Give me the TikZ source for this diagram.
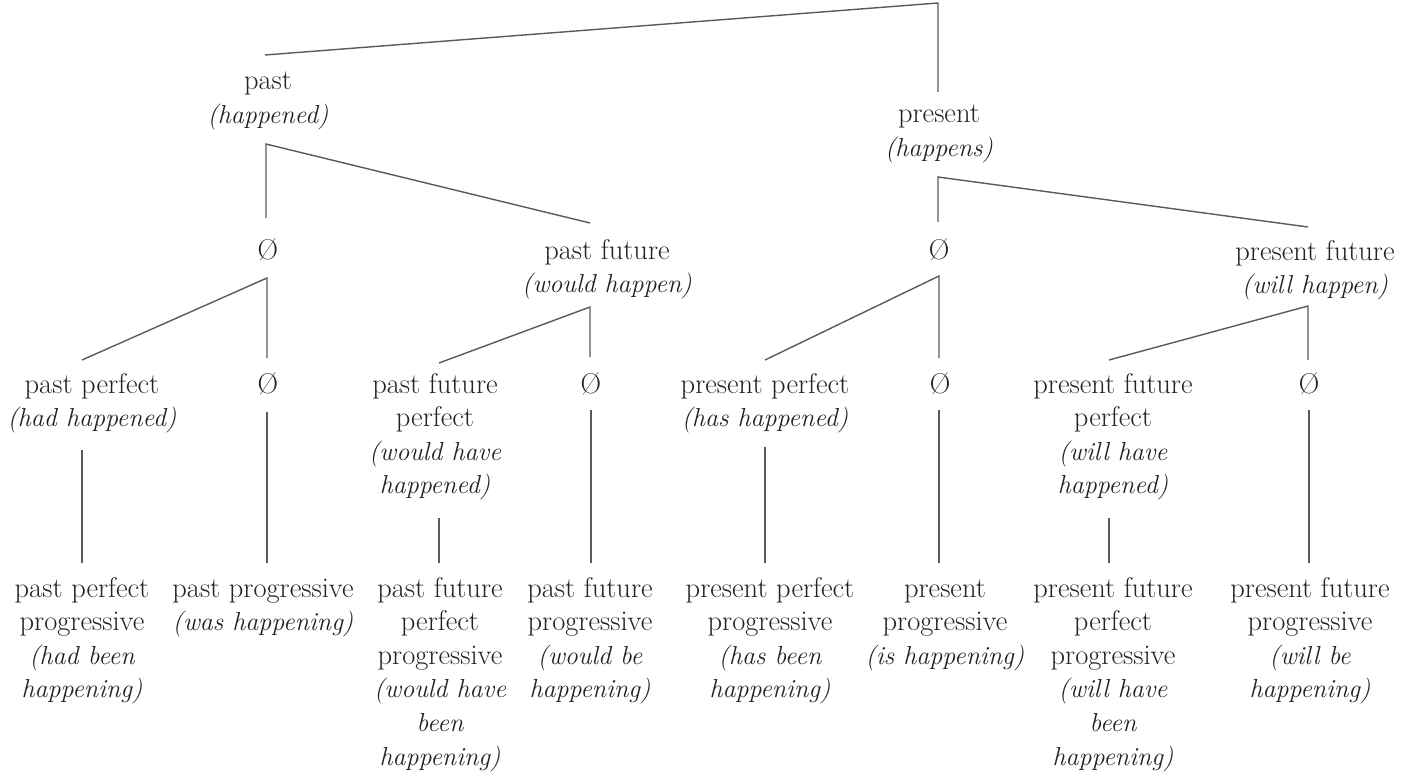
\documentclass[tikz,border=0pt]{standalone}
\usepackage{xcolor}
\definecolor{inkc}{HTML}{222222}
\definecolor{linec}{HTML}{5A5A5A}
\newcommand\ital[1]{{\fontsize{26}{33.6}\selectfont\itshape #1}}
\begin{document}
\begin{tikzpicture}[x=1pt,y=-1pt,
  lab/.style={anchor=base,align=center,inner sep=0pt,outer sep=0pt,text=inkc,
    font=\fontsize{28.5}{33.6}\selectfont},
  br/.style={draw=linec,line width=1.4pt}]
\useasboundingbox (0,0) rectangle (1411,778);
% level 1 (anchor = baseline of last line)
\node[lab] (past) at (268,123.6) {past\\\ital{(happened)}};
\node[lab] (pres) at (939,156.6) {present\\\ital{(happens)}};
% level 2
\node[lab] (z0) at (268,259) {\O};
\node[lab] (pf) at (607,292.6) {past future\\\ital{(would happen)}};
\node[lab] (z1) at (939,259) {\O};
\node[lab] (prf) at (1315,293.6) {present future\\\ital{(will happen)}};
% level 3
\node[lab] (pp) at (92,426.6) {past perfect\\\ital{(had happened)}};
\node[lab] (z00) at (268,393) {\O};
\node[lab] (pfp) at (435,493.8) {past future\\perfect\\\ital{(would have}\\\ital{happened)}};
\node[lab] (z01) at (591,393) {\O};
\node[lab] (prp) at (765,426.6) {present perfect\\\ital{(has happened)}};
\node[lab] (z10) at (940,393) {\O};
\node[lab] (prfp) at (1113,493.8) {present future\\perfect\\\ital{(will have}\\\ital{happened)}};
\node[lab] (z11) at (1309,393) {\O};
% level 4
\node[lab] (ppp) at (82,697.8) {past perfect\\progressive\\\ital{(had been}\\\ital{happening)}};
\node[lab] (pprog) at (263,630.6) {past progressive\\\ital{(was happening)}};
\node[lab] (pfpp) at (440,765) {past future\\perfect\\progressive\\\ital{(would have}\\\ital{been}\\\ital{happening)}};
\node[lab] (pfprog) at (590,697.8) {past future\\progressive\\\ital{(would be}\\\ital{happening)}};
\node[lab] (prpp) at (770,697.8) {present perfect\\progressive\\\ital{(has been}\\\ital{happening)}};
\node[lab] (prprog) at (945,664.2) {present\\progressive\\\ital{(is happening)}};
\node[lab] (prfpp) at (1113,765) {present future\\perfect\\progressive\\\ital{(will have}\\\ital{been}\\\ital{happening)}};
\node[lab] (prfprog) at (1310,697.8) {present future\\progressive\\\ital{(will be}\\\ital{happening)}};
% fork points and line ends
\coordinate (root) at (938,3);
\coordinate (pastIn) at (265,55);
\coordinate (presIn) at (938,92);
\coordinate (pastFork) at (266,144);
\coordinate (z0In) at (266,218);
\coordinate (pfIn) at (590,223);
\coordinate (presFork) at (938,177);
\coordinate (z1In) at (938,222);
\coordinate (prfIn) at (1308,227);
\coordinate (z0Fork) at (267,278);
\coordinate (z00In) at (267,358);
\coordinate (ppIn) at (82,360);
\coordinate (pfFork) at (590,307);
\coordinate (z01In) at (590,357);
\coordinate (pfpIn) at (439,363);
\coordinate (z1Fork) at (939,276);
\coordinate (z10In) at (939,358);
\coordinate (prpIn) at (765,360);
\coordinate (prfFork) at (1308,306);
\coordinate (z11In) at (1308,360);
\coordinate (prfpIn) at (1109,360);
\coordinate (ppOut) at (82,450);
\coordinate (pppIn) at (82,563);
\coordinate (z00Out) at (267,412);
\coordinate (pprogIn) at (267,563);
\coordinate (pfpOut) at (439,518);
\coordinate (pfppIn) at (439,563);
\coordinate (z01Out) at (591,410);
\coordinate (pfprogIn) at (591,563);
\coordinate (prpOut) at (765,447);
\coordinate (prppIn) at (765,563);
\coordinate (z10Out) at (939,410);
\coordinate (prprogIn) at (939,563);
\coordinate (prfpOut) at (1109,518);
\coordinate (prfppIn) at (1109,563);
\coordinate (z11Out) at (1309,410);
\coordinate (prfprogIn) at (1309,563);
% connectors
\draw[br] (pastIn) -- (root) -- (presIn);
\draw[br] (z0In) -- (pastFork) -- (pfIn);
\draw[br] (z1In) -- (presFork) -- (prfIn);
\draw[br] (ppIn) -- (z0Fork) -- (z00In);
\draw[br] (pfpIn) -- (pfFork) -- (z01In);
\draw[br] (prpIn) -- (z1Fork) -- (z10In);
\draw[br] (prfpIn) -- (prfFork) -- (z11In);
\draw[br] (ppOut) -- (pppIn);
\draw[br] (z00Out) -- (pprogIn);
\draw[br] (pfpOut) -- (pfppIn);
\draw[br] (z01Out) -- (pfprogIn);
\draw[br] (prpOut) -- (prppIn);
\draw[br] (z10Out) -- (prprogIn);
\draw[br] (prfpOut) -- (prfppIn);
\draw[br] (z11Out) -- (prfprogIn);
\end{tikzpicture}
\end{document}
